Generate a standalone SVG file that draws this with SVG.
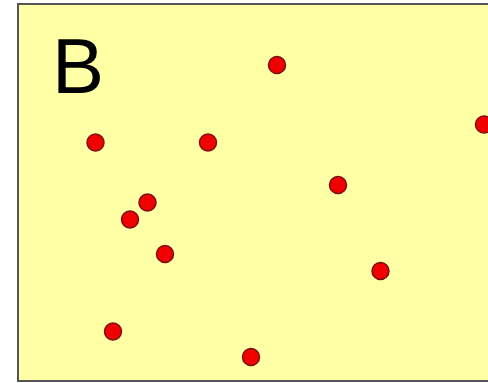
<svg xmlns="http://www.w3.org/2000/svg" width="488" height="383" viewBox="0 0 488 383">
<style>
.bg{fill:#FFFFA6;stroke:#555;stroke-width:2}
.dot{fill:#F00000;stroke:#7A1010;stroke-width:1.5}
.lbl{font-family:"Liberation Sans",Arial,sans-serif;font-size:78px;fill:#000}
</style>
<rect width="488" height="383" fill="#fff"/>
<rect class="bg" x="18" y="4" width="480" height="377"/>
<text class="lbl" x="52" y="93">B</text>
<g id="dots">
<circle id="d1" class="dot" cx="277" cy="65" r="8.5"/>
<circle id="d2" class="dot" cx="95.5" cy="142.5" r="8.5"/>
<circle id="d3" class="dot" cx="208" cy="142.5" r="8.5"/>
<circle id="d4" class="dot" cx="484" cy="124.5" r="8.5"/>
<circle id="d5" class="dot" cx="338" cy="185" r="8.5"/>
<circle id="d6" class="dot" cx="147.5" cy="202.5" r="8.5"/>
<circle id="d7" class="dot" cx="130" cy="219.5" r="8.5"/>
<circle id="d8" class="dot" cx="165" cy="254" r="8.5"/>
<circle id="d9" class="dot" cx="380.5" cy="271" r="8.5"/>
<circle id="d10" class="dot" cx="113" cy="331.5" r="8.5"/>
<circle id="d11" class="dot" cx="251" cy="357" r="8.5"/>
</g>
</svg>
